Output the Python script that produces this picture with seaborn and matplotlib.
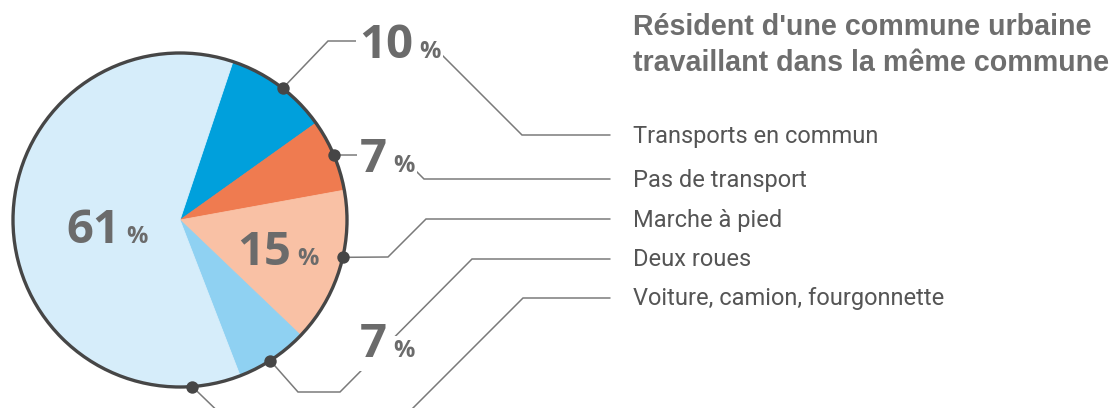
import matplotlib
matplotlib.use("Agg")
import matplotlib.pyplot as plt
import matplotlib.patches as mpatches
import seaborn as sns
import numpy as np

# data
categories = ["Transports en commun", "Pas de transport", "Marche à pied",
              "Deux roues", "Voiture, camion, fourgonnette"]
values = [10, 7, 15, 7, 61]
title_lines = ["Résident d'une commune urbaine", "travaillant dans la même commune"]

colors = ["#00a0dc", "#ef7b50", "#f9c1a5", "#8fd1f2", "#d6edfa"]

W, H = 1113, 408

def P(x, y):
    # reference pixel -> data coords (y up)
    return x, H - y

sns.set_theme(style="white")
plt.rcParams["font.family"] = ["Open Sans", "DejaVu Sans"]

fig = plt.figure(figsize=(W / 100, H / 100), dpi=100)
ax = fig.add_axes([0, 0, 1, 1])

cx, cy = P(180, 220)
R = 167
wedges, _ = ax.pie(values, colors=colors, startangle=71.5, counterclock=False,
                   center=(cx, cy), radius=R, frame=True,
                   wedgeprops=dict(linewidth=0.6))
for w, c in zip(wedges, colors):
    w.set_edgecolor(c)
ax.add_patch(mpatches.Circle((cx, cy), R, fill=False, ec="#464646", lw=2.4, zorder=3))

ax.set_xlim(0, W)
ax.set_ylim(0, H)
ax.set_aspect("equal")
ax.axis("off")

# anchor dot position inside each wedge (fraction along the wedge, clockwise)
dot_frac = [0.54, 0.5, 0.43, 0.54, 0.077]
paths = [
    [(328, 41), (428, 41), (522, 135), (610, 135)],
    [(400, 155), (424, 179), (610, 179)],
    [(388, 257), (426, 219), (610, 219)],
    [(298, 392), (340, 392), (472, 259), (610, 259)],
    [(232, 425), (396, 425), (523, 298), (610, 298)],
]
for w, f, path in zip(wedges, dot_frac, paths):
    ang = np.deg2rad(w.theta2 - f * (w.theta2 - w.theta1))
    dx, dy = cx + R * np.cos(ang), cy + R * np.sin(ang)
    pts = [(dx, dy)] + [P(*p) for p in path]
    xs, ys = zip(*pts)
    ax.plot(xs, ys, color="#7a7a7a", lw=1.1, zorder=2, solid_joinstyle="miter")
    ax.scatter([dx], [dy], s=80, color="#464646", zorder=5, linewidths=0)

# legend labels
for cat, path in zip(categories, paths):
    x, y = P(633, path[-1][1] + 1)
    ax.text(x, y, cat, fontsize=17, color="#555555", va="center", ha="left",
            family=["Roboto", "DejaVu Sans"], zorder=6)

# title
for line, by in zip(title_lines, [35, 71]):
    ax.text(*P(633, by), line, fontsize=20.6, fontweight="bold", color="#6e6e6e",
            va="baseline", ha="left",
            family=["Liberation Sans", "DejaVu Sans"], zorder=6)

# percentage labels
label_pos = [(359, 58), (360, 172), (237, 265), (360, 357), (66, 243)]
masked = [True, True, False, True, False]
fig.canvas.draw()
renderer = fig.canvas.get_renderer()
for v, (lx, ly), m in zip(values, label_pos, masked):
    bb = dict(fc="white", ec="none", pad=2) if m else None
    t = ax.text(*P(lx, ly), str(v), fontsize=34, fontweight="bold", color="#6b6b6b",
                va="baseline", ha="left", bbox=bb, zorder=7)
    ext = t.get_window_extent(renderer=renderer)
    px = ext.x1 + 6
    ax.text(px, H - ly, "%", fontsize=17, fontweight="bold", color="#6b6b6b",
            va="baseline", ha="left", bbox=bb, zorder=7)

fig.savefig("out.png", dpi=100)
